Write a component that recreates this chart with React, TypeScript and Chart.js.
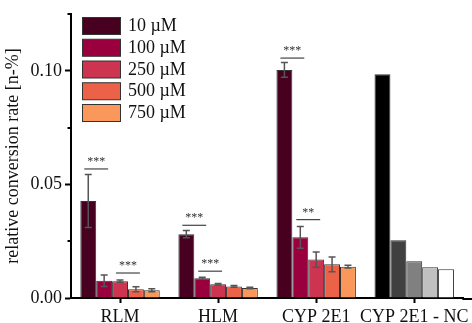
import React, { useEffect, useRef } from "react";
import { Chart, registerables } from "chart.js";

Chart.register(...registerables);

const categories = ["RLM", "HLM", "CYP 2E1", "CYP 2E1 - NC"];
const seriesLabels = ["10 µM", "100 µM", "250 µM", "500 µM", "750 µM"];
const seriesColors = ["#470020", "#9a003e", "#cc3450", "#ec6248", "#f9985a"];
const ncColors = ["#000000", "#404040", "#808080", "#c0c0c0", "#ffffff"];

const v10 = [0.0427, 0.0281, 0.1004, 0.0985];
const v100 = [0.0076, 0.0087, 0.0267, 0.0254];
const v250 = [0.0074, 0.006, 0.0169, 0.0162];
const v500 = [0.0038, 0.0051, 0.0148, 0.0135];
const v750 = [0.0034, 0.0044, 0.0138, 0.0126];

const e10 = [0.0117, 0.0016, 0.0032, null];
const e100 = [0.0025, 0.0004, 0.0048, null];
const e250 = [0.0005, 0.0004, 0.0034, null];
const e500 = [0.0011, 0.0004, 0.0032, null];
const e750 = [0.0007, 0.0003, 0.0006, null];

const sigCategory = [0, 0, 1, 1, 2, 2];
const sigFrom = [0, 2, 0, 1, 0, 1];
const sigTo = [1, 3, 1, 2, 1, 2];
const sigY = [0.0568, 0.011, 0.032, 0.0118, 0.1056, 0.0345];
const sigText = ["***", "***", "***", "***", "***", "**"];

const yTickValues = [0, 0.025, 0.05, 0.075, 0.1, 0.125];

const values = [v10, v100, v250, v500, v750];
const errors = [e10, e100, e250, e500, e750];

const FONT = "'Liberation Serif', 'DejaVu Serif', serif";

const isMajor = (v: number) => Math.abs(v / 0.05 - Math.round(v / 0.05)) < 1e-6;

const extrasPlugin = {
  id: "extras",
  afterDatasetsDraw(chart: any) {
    const ctx = chart.ctx;
    const y = chart.scales.y;
    ctx.save();
    ctx.strokeStyle = "#555555";
    ctx.lineWidth = 1.5;
    errors.forEach((errs, i) => {
      const meta = chart.getDatasetMeta(i);
      errs.forEach((e, j) => {
        if (e == null) return;
        const bar = meta.data[j];
        const v = values[i][j];
        const x = bar.x;
        const yt = y.getPixelForValue(v + e);
        const yb = y.getPixelForValue(v - e);
        ctx.beginPath();
        ctx.moveTo(x, yt);
        ctx.lineTo(x, yb);
        ctx.moveTo(x - 3.5, yt);
        ctx.lineTo(x + 3.5, yt);
        ctx.moveTo(x - 3.5, yb);
        ctx.lineTo(x + 3.5, yb);
        ctx.stroke();
      });
    });
    sigCategory.forEach((c, k) => {
      const x1 = chart.getDatasetMeta(sigFrom[k]).data[c].x - 4;
      const x2 = chart.getDatasetMeta(sigTo[k]).data[c].x + 4;
      const py = y.getPixelForValue(sigY[k]);
      ctx.strokeStyle = "#444444";
      ctx.lineWidth = 1.2;
      ctx.beginPath();
      ctx.moveTo(x1, py);
      ctx.lineTo(x2, py);
      ctx.stroke();
      ctx.fillStyle = "#333333";
      ctx.font = `12px ${FONT}`;
      ctx.textAlign = "center";
      ctx.textBaseline = "alphabetic";
      ctx.fillText(sigText[k], (x1 + x2) / 2, py - 4);
    });
    ctx.restore();
  },
  afterDraw(chart: any) {
    const ctx = chart.ctx;
    const y = chart.scales.y;
    const { left, right, bottom } = chart.chartArea;
    ctx.save();
    ctx.strokeStyle = "#000";
    ctx.lineWidth = 2;
    yTickValues.forEach((v) => {
      if (isMajor(v)) return;
      const py = Math.round(y.getPixelForValue(v));
      ctx.beginPath();
      ctx.moveTo(left - 3.5, py);
      ctx.lineTo(left, py);
      ctx.stroke();
    });
    // extend x axis line to the canvas edge
    ctx.beginPath();
    ctx.moveTo(right - 1, Math.round(bottom) + 1);
    ctx.lineTo(chart.width, Math.round(bottom) + 1);
    ctx.stroke();
    ctx.font = `18px ${FONT}`;
    ctx.textAlign = "left";
    ctx.textBaseline = "middle";
    seriesLabels.forEach((lab, i) => {
      const by = 17.5 + i * 21.75;
      ctx.fillStyle = seriesColors[i];
      ctx.fillRect(82.5, by, 38, 17);
      ctx.strokeStyle = "#333";
      ctx.lineWidth = 1;
      ctx.strokeRect(82.5, by, 38, 17);
      ctx.fillStyle = "#111";
      ctx.fillText(lab, 128, by + 9);
    });
    ctx.restore();
  },
};

export default function App() {
  const ref = useRef<HTMLCanvasElement>(null);
  useEffect(() => {
    if (!ref.current) return;
    const chart = new Chart(ref.current, {
      type: "bar",
      data: {
        labels: categories,
        datasets: values.map((vals, i) => ({
          label: seriesLabels[i],
          data: vals,
          backgroundColor: categories.map((_, j) => (j === 3 ? ncColors[i] : seriesColors[i])),
          borderColor: "#333333",
          borderWidth: 1,
          categoryPercentage: 0.81,
          barPercentage: 1.0,
        })),
      },
      options: {
        responsive: false,
        animation: false,
        layout: { padding: { top: 14, right: 4, left: 0, bottom: 0 } },
        plugins: { legend: { display: false }, tooltip: { enabled: false } },
        scales: {
          x: {
            afterFit: (s: any) => {
              s.height = 25;
            },
            grid: {
              offset: false,
              drawOnChartArea: false,
              drawTicks: true,
              tickLength: 5,
              tickWidth: 2,
              tickColor: "#000",
            },
            border: { display: true, color: "#000", width: 2 },
            ticks: {
              color: "#111",
              font: { family: FONT, size: 18 },
              padding: 3,
              maxRotation: 0,
              minRotation: 0,
              autoSkip: false,
            },
          },
          y: {
            min: 0,
            max: 0.125,
            afterFit: (s: any) => {
              s.width = 71;
            },
            afterBuildTicks: (s: any) => {
              s.ticks = yTickValues.map((v) => ({ value: v }));
            },
            grid: {
              drawOnChartArea: false,
              drawTicks: true,
              tickLength: 6,
              tickWidth: 2,
              tickColor: (c: any) => (c.tick && isMajor(c.tick.value) ? "#000" : "rgba(0,0,0,0)"),
            },
            border: { display: true, color: "#000", width: 2 },
            ticks: {
              color: "#111",
              font: { family: FONT, size: 18 },
              padding: 3,
              callback: (v: any) => (isMajor(Number(v)) ? Number(v).toFixed(2) : ""),
            },
            title: {
              display: true,
              text: "relative conversion rate [n-%]",
              color: "#111",
              font: { family: FONT, size: 18 },
              padding: { top: 2, bottom: 0 },
            },
          },
        },
      },
      plugins: [extrasPlugin],
    });
    return () => chart.destroy();
  }, []);
  return (
    <div style={{ position: "fixed", left: 0, top: 0, width: 472, height: 323, background: "#fff" }}>
      <canvas ref={ref} width={472} height={323} style={{ width: 472, height: 323 }} />
    </div>
  );
}
